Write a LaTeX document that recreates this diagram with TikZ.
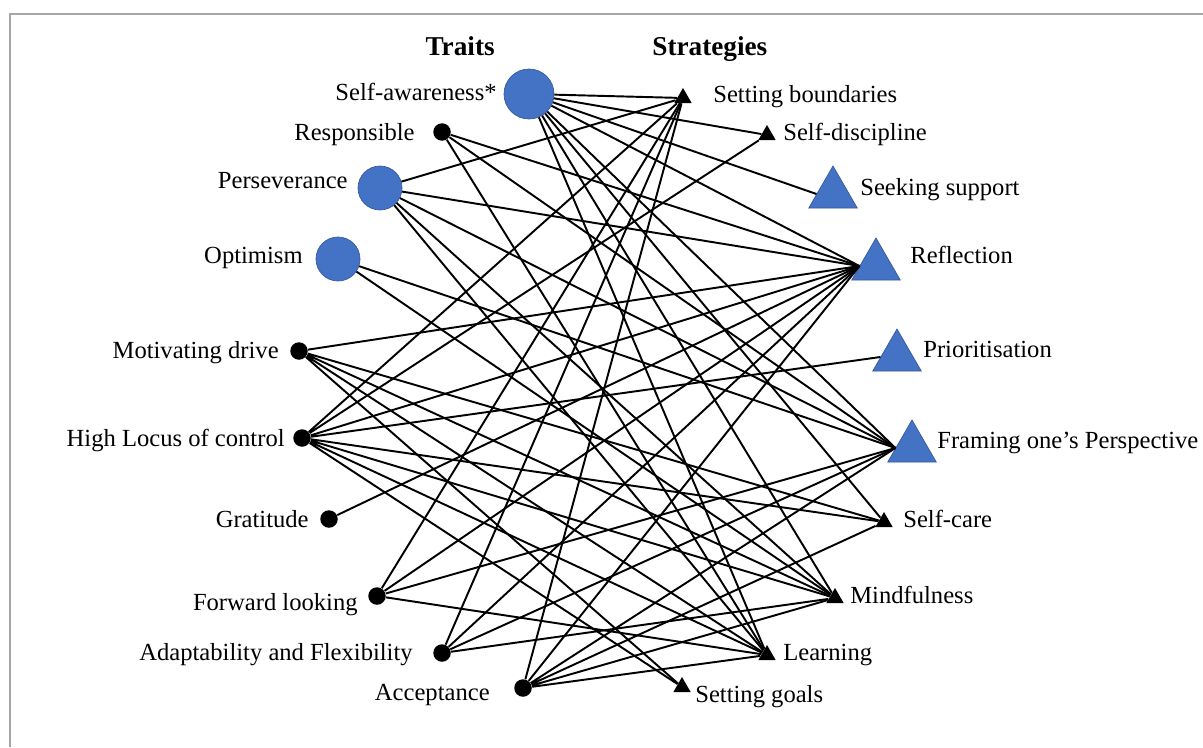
\documentclass[tikz,border=0pt]{standalone}
\usepackage{fontspec}
\setmainfont{Liberation Serif}
\usepackage{xcolor}
\usetikzlibrary{shapes.geometric}
\definecolor{tblue}{RGB}{68,114,196}

\begin{document}
\begin{tikzpicture}[x=0.02cm,y=-0.02cm,
lab/.style={inner sep=0pt,font=\fontsize{14}{16}\selectfont},
head/.style={inner sep=0pt,font=\fontsize{15.5}{18}\selectfont\bfseries},
bigc/.style={circle,fill=tblue,draw=tblue!80!black,inner sep=0pt,minimum size=0.88cm},
dot/.style={circle,fill=black,inner sep=0pt,minimum size=0.35cm},
bigtri/.style={regular polygon,regular polygon sides=3,fill=tblue,draw=tblue!80!black,inner sep=0pt,minimum size=1.12cm},
tri/.style={regular polygon,regular polygon sides=3,fill=black,inner sep=0pt,minimum size=0.4cm},
link/.style={line width=1.1pt}]
\useasboundingbox (0,0) rectangle (1203,747);
\draw[line width=1.1pt,gray!70] (10,747)--(10,14)--(1203,14);

\node[head,anchor=base east] (traits) at (495,55) {Traits};
\node[head,anchor=base west] (strat) at (652,55) {Strategies};

% traits
\node[bigc,minimum size=1cm] (sa) at (529,94) {};
\node[dot] (re) at (442,132) {};
\node[bigc] (pe) at (380,188) {};
\node[bigc] (op) at (338,259) {};
\node[dot] (mo) at (299,351) {};
\node[dot] (hl) at (302,438) {};
\node[dot] (gr) at (329,519) {};
\node[dot] (fw) at (377,596) {};
\node[dot] (ad) at (442,653) {};
\node[dot] (ac) at (523,688) {};

\node[lab,anchor=base east] (tsa) at (497,100) {Self-awareness*};
\node[lab,anchor=base east] (tre) at (415,140) {Responsible};
\node[lab,anchor=base east] (tpe) at (348,188) {Perseverance};
\node[lab,anchor=base east] (top) at (303,263) {Optimism};
\node[lab,anchor=base east] (tmo) at (279,358) {Motivating drive};
\node[lab,anchor=base east] (thl) at (285,446) {High Locus of control};
\node[lab,anchor=base east] (tgr) at (309,527) {Gratitude};
\node[lab,anchor=base east] (tfw) at (358,610) {Forward looking};
\node[lab,anchor=base east] (tad) at (413,660) {Adaptability and Flexibility};
\node[lab,anchor=base east] (tac) at (490,700) {Acceptance};

% strategies
\node[tri] (sb) at (683,98) {};
\node[tri] (sd) at (767,135) {};
\node[bigtri] (ss) at (833,194) {};
\node[bigtri] (rf) at (876,266) {};
\node[bigtri] (pr) at (897,357) {};
\node[bigtri] (fr) at (912,448) {};
\node[tri] (sc) at (884,522) {};
\node[tri] (mi) at (835,598) {};
\node[tri] (le) at (767,655) {};
\node[tri] (sg) at (682,687) {};

\node[lab,anchor=base west] (tsb) at (713,102) {Setting boundaries};
\node[lab,anchor=base west] (tsd) at (783,140) {Self-discipline};
\node[lab,anchor=base west] (tss) at (860,195) {Seeking support};
\node[lab,anchor=base west] (trf) at (910,263) {Reflection};
\node[lab,anchor=base west] (tpr) at (923,357) {Prioritisation};
\node[lab,anchor=base west] (tfr) at (937,448) {Framing one's Perspective};
\node[lab,anchor=base west] (tsc) at (903,527) {Self-care};
\node[lab,anchor=base west] (tmi) at (850,603) {Mindfulness};
\node[lab,anchor=base west] (tle) at (783,660) {Learning};
\node[lab,anchor=base west] (tsg) at (695,702) {Setting goals};

% links
\draw[link] (sa)--(sb) (sa)--(sd) (sa)--(ss.west) (sa)--(rf.west) (sa)--(fr.west) (sa)--(sc) (sa)--(mi) (sa)--(le);
\draw[link] (re)--(rf.west) (re)--(fr.west) (re)--(le);
\draw[link] (pe)--(sb) (pe)--(rf.west) (pe)--(fr.west) (pe)--(mi) (pe)--(le);
\draw[link] (op)--(fr.west) (op)--(mi);
\draw[link] (mo)--(rf.west) (mo)--(sc) (mo)--(mi) (mo)--(le) (mo)--(sg);
\draw[link] (hl)--(sb) (hl)--(sd) (hl)--(rf.west) (hl)--(pr.west) (hl)--(sc) (hl)--(mi) (hl)--(le) (hl)--(sg);
\draw[link] (gr)--(rf.west);
\draw[link] (fw)--(sb) (fw)--(rf.west) (fw)--(fr.west) (fw)--(le);
\draw[link] (ad)--(sb) (ad)--(rf.west) (ad)--(fr.west) (ad)--(mi);
\draw[link] (ac)--(sb) (ac)--(rf.west) (ac)--(fr.west) (ac)--(sc) (ac)--(mi) (ac)--(le);
\end{tikzpicture}
\end{document}
